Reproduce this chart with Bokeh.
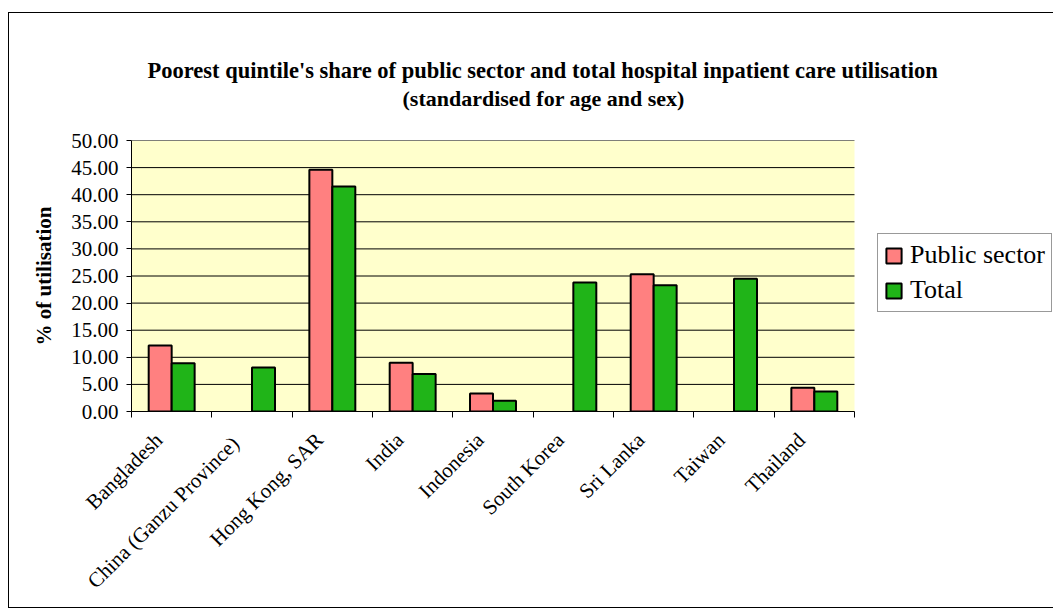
import math
from bokeh.plotting import figure
from bokeh.models import (ColumnDataSource, FixedTicker, Title, NumeralTickFormatter,
                          Range1d, Legend, LegendItem, BoxAnnotation)
from bokeh.embed import file_html
from bokeh.resources import INLINE

countries = ["Bangladesh", "China  (Ganzu Province)", "Hong Kong, SAR", "India",
             "Indonesia", "South Korea", "Sri Lanka", "Taiwan", "Thailand"]
public_sector = [12.2, float("nan"), 44.6, 9.0, 3.3, float("nan"), 25.3, float("nan"), 4.4]
total = [8.9, 8.1, 41.5, 6.9, 2.0, 23.8, 23.3, 24.5, 3.7]
y_ticks = [0, 5, 10, 15, 20, 25, 30, 35, 40, 45, 50]
title_lines = ["Poorest quintile's share of public sector and total hospital inpatient care utilisation",
               "(standardised for age and sex)"]

n = len(countries)
centers = [i + 0.5 for i in range(n)]
label_pos = [c - 0.16 for c in centers]   # rotated labels end slightly left of centre
bounds = [i for i in range(n + 1)]
src = ColumnDataSource(dict(
    xp=[c - 0.143 for c in centers], xt=[c + 0.143 for c in centers],
    pub=public_sector, tot=total))
grid_src = ColumnDataSource(dict(y=y_ticks[1:], x0=[0] * (len(y_ticks) - 1),
                                 x1=[n] * (len(y_ticks) - 1)))

SERIF = "Liberation Serif"
FIG_W, FIG_H = 1045, 596
LEFT, RIGHT, TOP, BOTTOM = 122, 0, 127, 198
AREA_W = 723                      # pixel width of the category area
frame_w = FIG_W - LEFT - RIGHT
x_end = n * frame_w / AREA_W      # frame extends right so the legend is not clipped

p = figure(width=FIG_W, height=FIG_H, output_backend="svg", toolbar_location=None,
           x_range=Range1d(0, x_end), y_range=Range1d(0, 50),
           min_border_left=LEFT, min_border_right=RIGHT, min_border_top=TOP,
           min_border_bottom=BOTTOM, background_fill_color="white",
           border_fill_color="white", outline_line_color=None,
           margin=(12, 0, 0, 8),
           styles={"border-left": "1px solid #000", "border-top": "1px solid #000",
                   "border-bottom": "1px solid #000"})

p.add_layout(BoxAnnotation(left=0, right=n, fill_color="#FFFFCC", fill_alpha=1,
                           line_color=None, level="underlay"))
p.segment(x0="x0", x1="x1", y0="y", y1="y", source=grid_src, line_color="black",
          line_width=1)

r1 = p.vbar(x="xp", top="pub", width=0.286, source=src, fill_color="#FF8080",
            line_color="black", line_width=2)
r2 = p.vbar(x="xt", top="tot", width=0.286, source=src, fill_color="#20B418",
            line_color="black", line_width=2)

# axes
p.xaxis.bounds = (0, n)
p.xaxis.ticker = FixedTicker(ticks=label_pos, minor_ticks=bounds)
p.xaxis.major_label_overrides = {c: name for c, name in zip(label_pos, countries)}
p.xaxis.major_label_orientation = math.pi / 4
p.xaxis.major_tick_line_color = None
p.xaxis.minor_tick_line_color = "black"
p.xaxis.minor_tick_out = 6
p.xaxis.minor_tick_in = 0
p.xaxis.major_label_text_font = SERIF
p.xaxis.major_label_text_font_size = "21px"
p.xaxis.major_label_text_color = "black"
p.xaxis.major_label_standoff = 19
p.xaxis.axis_line_color = "black"

p.yaxis.ticker = FixedTicker(ticks=y_ticks)
p.yaxis.formatter = NumeralTickFormatter(format="0.00")
p.yaxis.minor_tick_line_color = None
p.yaxis.major_tick_out = 5
p.yaxis.major_tick_in = 0
p.yaxis.major_label_text_font = SERIF
p.yaxis.major_label_text_font_size = "21px"
p.yaxis.major_label_text_color = "black"
p.yaxis.major_label_standoff = 8
p.yaxis.axis_label = "% of utilisation"
p.yaxis.axis_label_text_font = SERIF
p.yaxis.axis_label_text_font_size = "21px"
p.yaxis.axis_label_text_font_style = "bold"
p.yaxis.axis_label_text_color = "black"
p.yaxis.axis_label_standoff = 12
p.yaxis.axis_line_color = "black"

p.xgrid.grid_line_color = None
p.ygrid.grid_line_color = None

# title lines: first added sits nearest the frame
p.add_layout(Title(text=title_lines[1], align="left", offset=271, standoff=60,
                   text_font=SERIF, text_font_size="22px", text_font_style="bold",
                   text_color="black"), "above")
p.add_layout(Title(text=title_lines[0], align="left", offset=16, standoff=-59,
                   text_font=SERIF, text_font_size="22.5px", text_font_style="bold",
                   text_color="black"), "above")

legend = Legend(items=[LegendItem(label="Public sector", renderers=[r1]),
                       LegendItem(label="Total", renderers=[r2])],
                location=(746, 99), label_text_font=SERIF, label_text_font_size="26px",
                label_text_color="black", label_height=29,
                glyph_width=19, glyph_height=19, label_standoff=7, spacing=5,
                padding=6, margin=0, border_line_color="#333333",
                background_fill_color="white", background_fill_alpha=1)
p.add_layout(legend, "center")

open("out.html", "w").write(file_html(p, INLINE))
